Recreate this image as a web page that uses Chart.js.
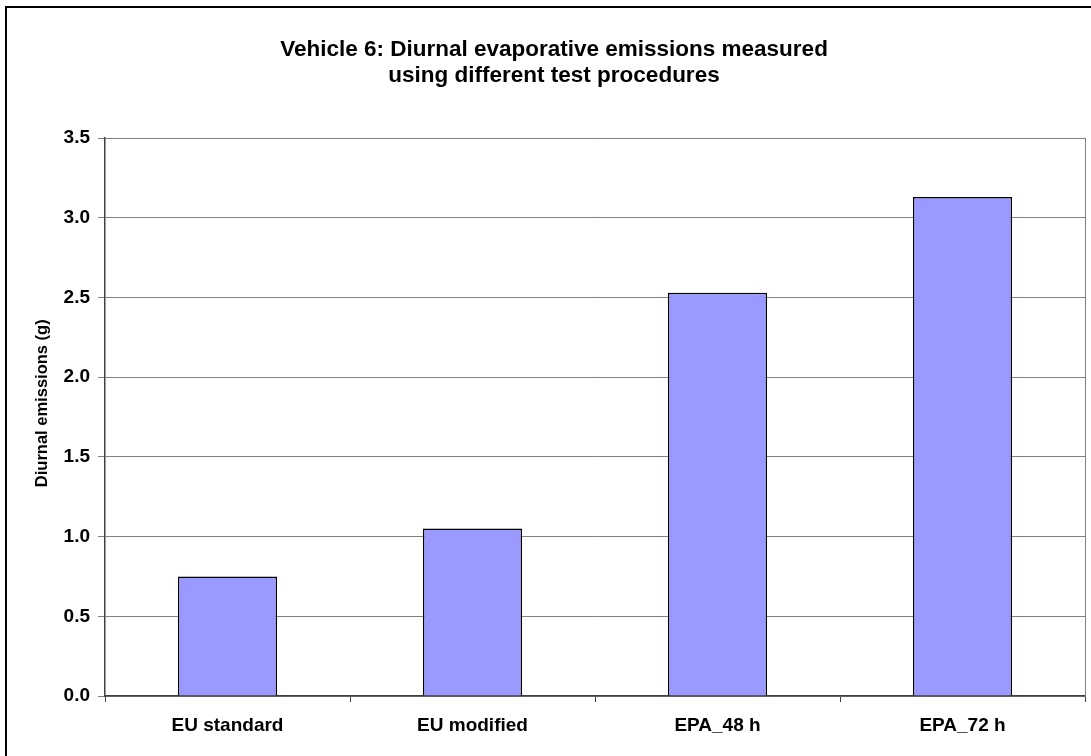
<!DOCTYPE html>
<html>
<head>
<meta charset="utf-8">
<script src="https://cdn.jsdelivr.net/npm/chart.js@4/dist/chart.umd.min.js"></script>
<style>
  html, body { margin: 0; padding: 0; background: #fff; }
  #wrap { width: 1091px; height: 756px; position: relative; }
</style>
</head>
<body>
<div id="wrap"><canvas id="chart" width="1091" height="756"></canvas></div>
<script>
// Test procedures and measured diurnal emissions (g)
const procedures = ['EU standard', 'EU modified', 'EPA_48 h', 'EPA_72 h'];
const diurnalEmissions = [0.75, 1.05, 2.53, 3.13];
const titleLines = ['Vehicle 6: Diurnal evaporative emissions measured', 'using different test procedures'];
const yAxisTitle = '      Diurnal emissions (g)';

const FONT = '"Liberation Sans", Arial, Helvetica, sans-serif';

// White page with the black frame around the figure, plus the plot-area edge on the right
const framePlugin = {
  id: 'frame',
  beforeDraw(chart) {
    const ctx = chart.ctx;
    ctx.save();
    ctx.fillStyle = '#ffffff';
    ctx.fillRect(0, 0, chart.width, chart.height);
    ctx.fillStyle = '#000000';
    ctx.fillRect(5, 6, chart.width - 5, 2);
    ctx.fillRect(5, 6, 2, chart.height - 6);
    ctx.restore();
  },
  beforeDatasetsDraw(chart) {
    const {ctx, chartArea} = chart;
    ctx.save();
    ctx.strokeStyle = '#808080';
    ctx.lineWidth = 1;
    ctx.beginPath();
    ctx.moveTo(Math.round(chartArea.right) + 0.5, chartArea.top);
    ctx.lineTo(Math.round(chartArea.right) + 0.5, chartArea.bottom);
    ctx.stroke();
    ctx.restore();
  }
};

new Chart(document.getElementById('chart'), {
  type: 'bar',
  data: {
    labels: procedures,
    datasets: [{
      data: diurnalEmissions,
      backgroundColor: '#9999ff',
      borderColor: '#000000',
      borderWidth: 1.5,
      barPercentage: 0.405,
      categoryPercentage: 1.0
    }]
  },
  options: {
    responsive: false,
    animation: false,
    layout: { padding: { top: 6, left: 23, right: 6, bottom: 0 } },
    plugins: {
      legend: { display: false },
      tooltip: { enabled: false },
      title: {
        display: true,
        text: titleLines,
        color: '#000000',
        font: { family: FONT, size: 22.5, weight: 'bold', lineHeight: 1.156 },
        padding: { top: 31, bottom: 49 }
      }
    },
    scales: {
      x: {
        grid: {
          offset: true,
          drawOnChartArea: false,
          color: '#404040',
          tickLength: 6
        },
        border: { color: '#404040', width: 1.5 },
        ticks: {
          color: '#000000',
          padding: 12,
          maxRotation: 0,
          font: { family: FONT, size: 19, weight: 'bold' }
        },
        afterFit(scale) { scale.height = 60; }
      },
      y: {
        min: 0,
        max: 3.5,
        ticks: {
          stepSize: 0.5,
          color: '#000000',
          padding: 8,
          font: { family: FONT, size: 19, weight: 'bold' },
          callback: (v) => Number(v).toFixed(1)
        },
        grid: {
          color: '#808080',
          lineWidth: 1,
          tickLength: 7
        },
        border: { color: '#404040', width: 1.5 },
        title: {
          display: true,
          text: yAxisTitle,
          color: '#000000',
          font: { family: FONT, size: 16.5, weight: 'bold', lineHeight: 1.2 },
          padding: { top: 9.6, bottom: 0 }
        },
        afterFit(scale) { scale.width = 82; }
      }
    }
  },
  plugins: [framePlugin]
});
</script>
</body>
</html>
